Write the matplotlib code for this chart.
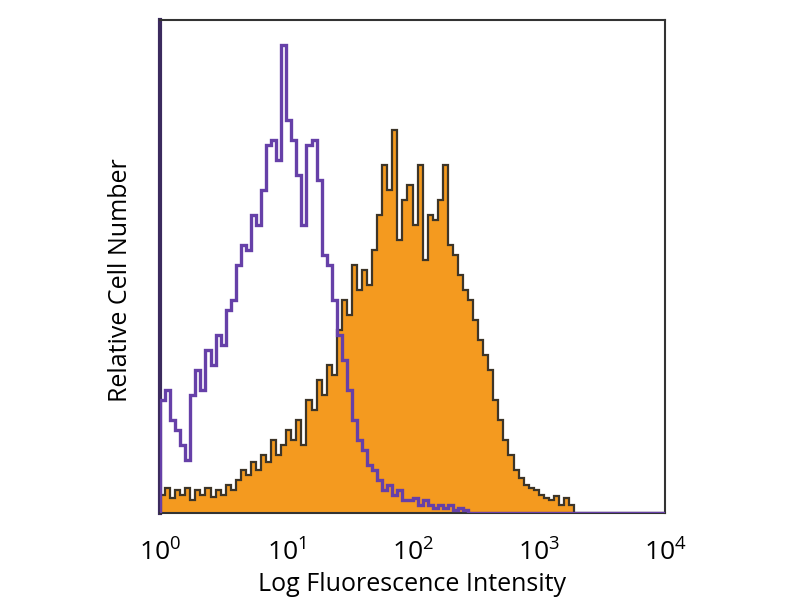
import numpy as np
import matplotlib
matplotlib.use('Agg')
from matplotlib import pyplot as plt

# bins of 0.04 decade from 10^0 to 10^4
bin_width = 0.04
n_bins = 100

# isotype control (purple outline)
purple_counts = [113, 123, 93, 83, 68, 53, 118, 143, 123, 163,
                 148, 178, 168, 203, 213, 248, 268, 263, 298, 288,
                 323, 368, 373, 353, 468, 393, 373, 338, 288, 368,
                 373, 333, 258, 248, 213, 178, 153, 123, 93, 73,
                 63, 48, 43, 33, 23, 28, 18, 23, 13, 13,
                 15, 8, 13, 8, 5, 8, 5, 8, 3, 5,
                 3]

# stained sample (orange filled)
orange_counts = [18, 25, 15, 23, 18, 25, 13, 23, 18, 25,
                 16, 23, 18, 28, 23, 33, 43, 38, 51, 43,
                 58, 51, 73, 58, 68, 83, 73, 93, 68, 113,
                 103, 133, 118, 148, 138, 183, 213, 198, 248, 223,
                 243, 228, 263, 298, 348, 323, 383, 273, 313, 328,
                 288, 348, 253, 298, 293, 313, 348, 268, 258, 238,
                 223, 213, 193, 173, 158, 143, 113, 93, 73, 58,
                 43, 35, 28, 25, 23, 18, 15, 13, 17, 8,
                 15, 8]

tick_values = [1, 10, 100, 1000, 10000]
tick_labels = [r'$\mathregular{10^{0}}$', r'$\mathregular{10^{1}}$',
               r'$\mathregular{10^{2}}$', r'$\mathregular{10^{3}}$',
               r'$\mathregular{10^{4}}$']

plt.rcParams['font.family'] = ['Open Sans', 'DejaVu Sans']

edges = 10 ** (np.arange(n_bins + 1) * bin_width)


def full(counts):
    vals = np.zeros(n_bins)
    vals[:len(counts)] = counts
    return vals


fig = plt.figure(figsize=(8, 6), dpi=100)
ax = fig.add_axes([0.2, 0.145, 0.63125, 0.8217])

orange = full(orange_counts)
ax.stairs(orange, edges, fill=True, color='#f49a1f', zorder=2)
ax.stairs(orange, edges, color='#3d3528', linewidth=1.6, zorder=3)

purple = full(purple_counts)
ax.stairs(purple, edges, color='#6640a8', linewidth=2.4, zorder=4)

ax.set_xscale('log')
ax.set_xlim(1, 10000)
ax.set_ylim(0, 493)
ax.set_xticks(tick_values)
ax.set_xticklabels(tick_labels, fontsize=19)
ax.xaxis.set_minor_locator(plt.NullLocator())
ax.set_yticks([])
ax.tick_params(axis='x', length=0, pad=19)

for side in ['top', 'right', 'bottom']:
    ax.spines[side].set_color('#333333')
    ax.spines[side].set_linewidth(1.5)
ax.spines['left'].set_color('#3b2a5e')
ax.spines['left'].set_linewidth(3)

ax.set_xlabel('Log Fluorescence Intensity', fontsize=18, labelpad=4)
ax.set_ylabel('Relative Cell Number', fontsize=18)
ax.yaxis.set_label_coords(-0.053, 0.473)

fig.savefig('out.png', dpi=100)
